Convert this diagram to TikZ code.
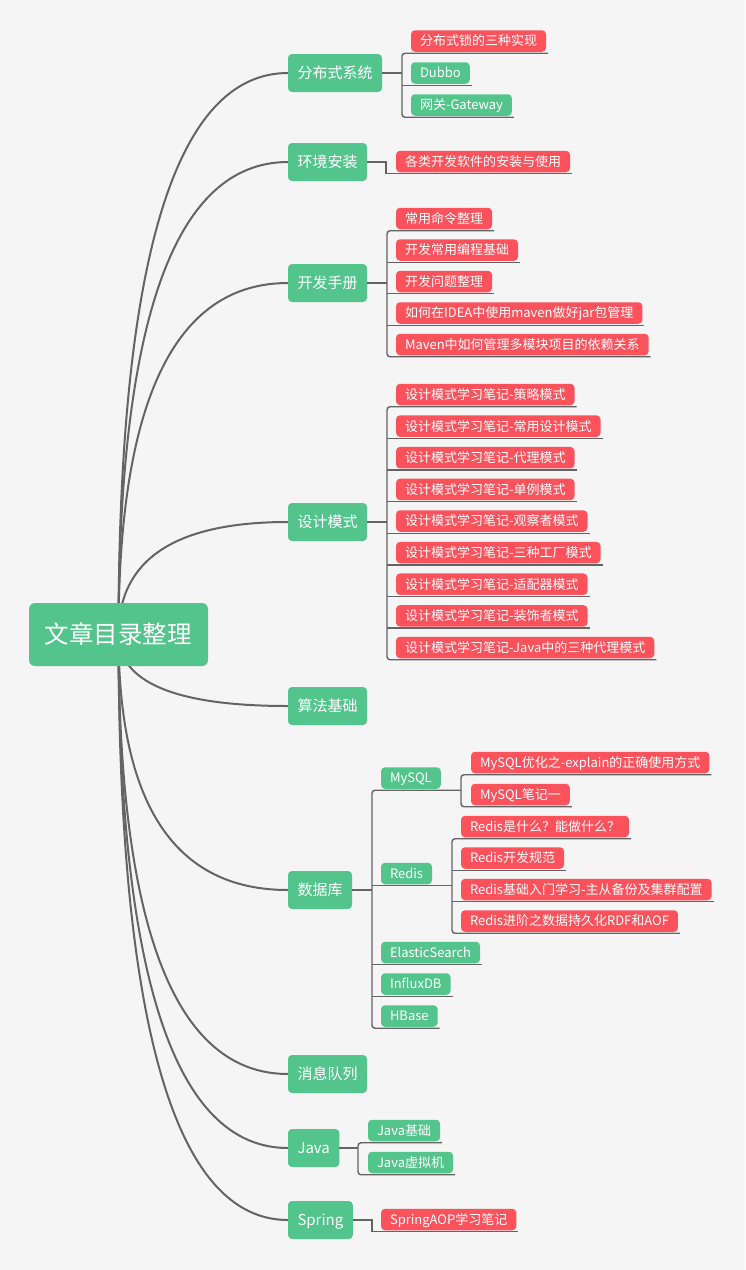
\documentclass[tikz,border=0pt]{standalone}
\usepackage{fontspec}
\setmainfont{Noto Sans CJK SC}
\usetikzlibrary{backgrounds,calc}
\definecolor{mmgreen}{RGB}{82,196,140}
\definecolor{mmred}{RGB}{252,82,92}
\definecolor{mmline}{RGB}{100,100,100}
\definecolor{mmbg}{RGB}{245,245,245}

\begin{document}
\begin{tikzpicture}[
  x=1pt, y=-1pt,
  root/.style={fill=mmgreen, text=white, rounded corners=6pt, anchor=west,
    minimum height=63pt, inner xsep=16pt, inner ysep=0pt, outer sep=0pt,
    font=\fontsize{24.5pt}{28pt}\selectfont, text height=23.5pt, text depth=4.9pt},
  topic/.style={fill=mmgreen, text=white, rounded corners=4pt, anchor=west,
    minimum height=38pt, inner xsep=9.5pt, inner ysep=0pt, outer sep=0pt,
    font=\fontsize{15pt}{18pt}\selectfont, text height=14.4pt, text depth=3pt},
  leaf/.style={text=white, rounded corners=4pt, anchor=west,
    minimum height=21.5pt, inner xsep=9pt, inner ysep=0pt, outer xsep=2pt, outer ysep=1.5pt,
    font=\fontsize{13pt}{15pt}\selectfont, text height=12.5pt, text depth=2.6pt},
  leafred/.style={leaf, fill=mmred},
  leafgreen/.style={leaf, fill=mmgreen},
  branch/.style={draw=mmline, line width=2pt},
  tree/.style={draw=mmline, line width=1.4pt},
  bracket/.style={rounded corners=3pt}
]

% --- Root ---
\node[root] (root) at (29,634.5) {文章目录整理};

% --- Main topics ---
\node[topic] (sys) at (288,73) {分布式系统};
\node[topic] (env) at (288,162) {环境安装};
\node[topic] (dev) at (288,283) {开发手册};
\node[topic] (pat) at (288,522) {设计模式};
\node[topic] (alg) at (288,706) {算法基础};
\node[topic] (db) at (288,890) {数据库};
\node[topic] (mq) at (288,1074) {消息队列};
\node[topic] (java) at (288,1148) {Java};
\node[topic] (spring) at (288,1220) {Spring};

% --- 分布式系统 ---
\coordinate (bsys) at (402,0);
\node[leafred] (lock) at (409,41) {分布式锁的三种实现};
\node[leafgreen] (dubbo) at (409,73) {Dubbo};
\node[leafgreen] (gate) at (409,105) {网关-Gateway};

% --- 环境安装 ---
\coordinate (benv) at (386,0);
\node[leafred] (tools) at (394,161.5) {各类开发软件的安装与使用};

% --- 开发手册 ---
\coordinate (bdev) at (387,0);
\node[leafred] (cmd) at (394,218.5) {常用命令整理};
\node[leafred] (basic) at (394,250) {开发常用编程基础};
\node[leafred] (issue) at (394,281.5) {开发问题整理};
\node[leafred] (idea) at (394,313) {如何在IDEA中使用maven做好jar包管理};
\node[leafred] (maven) at (394,344.5) {Maven中如何管理多模块项目的依赖关系};

% --- 设计模式 ---
\coordinate (bpat) at (387,0);
\node[leafred] (strat) at (394,394.5) {设计模式学习笔记-策略模式};
\node[leafred] (common) at (394,426.1) {设计模式学习笔记-常用设计模式};
\node[leafred] (proxy) at (394,457.7) {设计模式学习笔记-代理模式};
\node[leafred] (single) at (394,489.4) {设计模式学习笔记-单例模式};
\node[leafred] (observer) at (394,521) {设计模式学习笔记-观察者模式};
\node[leafred] (factory) at (394,552.6) {设计模式学习笔记-三种工厂模式};
\node[leafred] (adapter) at (394,584.2) {设计模式学习笔记-适配器模式};
\node[leafred] (decor) at (394,615.9) {设计模式学习笔记-装饰者模式};
\node[leafred] (jproxy) at (394,647.5) {设计模式学习笔记-Java中的三种代理模式};

% --- 数据库 ---
\coordinate (bdb) at (372,0);
\node[leafgreen] (mysql) at (379,778) {MySQL};
\node[leafgreen] (redis) at (379,873.5) {Redis};
\node[leafgreen] (es) at (379,952.5) {ElasticSearch};
\node[leafgreen] (influx) at (379,984) {InfluxDB};
\node[leafgreen] (hbase) at (379,1016) {HBase};

\coordinate (bmy) at (461,0);
\node[leafred] (explain) at (469,762.5) {MySQL优化之-explain的正确使用方式};
\node[leafred] (note) at (469,794.5) {MySQL笔记一};

\coordinate (bre) at (452,0);
\node[leafred] (what) at (459,826.5) {Redis是什么？能做什么？};
\node[leafred] (rule) at (459,858) {Redis开发规范};
\node[leafred] (cluster) at (459,889.5) {Redis基础入门学习-主从备份及集群配置};
\node[leafred] (persist) at (459,921) {Redis进阶之数据持久化RDF和AOF};

% --- Java ---
\coordinate (bjava) at (358,0);
\node[leafgreen] (jbase) at (366,1130.5) {Java基础};
\node[leafgreen] (jvm) at (366,1162.5) {Java虚拟机};

% --- Spring ---
\coordinate (bspring) at (372,0);
\node[leafred] (aop) at (379,1219.5) {SpringAOP学习笔记};

% --- Edges: 分布式系统 ---
\draw[tree] (sys.east) -- (bsys |- sys.east);
\draw[tree, bracket] (lock.south east) -- (bsys |- lock.south) -- (bsys |- gate.south) -- (gate.south east);
\draw[tree] (bsys |- dubbo.south) -- (dubbo.south east);

% --- Edges: 环境安装 ---
\draw[tree] (env.east) -- (benv |- env.east) -- (benv |- tools.south) -- (tools.south east);

% --- Edges: 开发手册 ---
\draw[tree] (dev.east) -- (bdev |- dev.east);
\draw[tree, bracket] (cmd.south east) -- (bdev |- cmd.south) -- (bdev |- maven.south) -- (maven.south east);
\draw[tree] (bdev |- basic.south) -- (basic.south east);
\draw[tree] (bdev |- issue.south) -- (issue.south east);
\draw[tree] (bdev |- idea.south) -- (idea.south east);

% --- Edges: 设计模式 ---
\draw[tree] (pat.east) -- (bpat |- pat.east);
\draw[tree, bracket] (strat.south east) -- (bpat |- strat.south) -- (bpat |- jproxy.south) -- (jproxy.south east);
\draw[tree] (bpat |- common.south) -- (common.south east);
\draw[tree] (bpat |- proxy.south) -- (proxy.south east);
\draw[tree] (bpat |- single.south) -- (single.south east);
\draw[tree] (bpat |- observer.south) -- (observer.south east);
\draw[tree] (bpat |- factory.south) -- (factory.south east);
\draw[tree] (bpat |- adapter.south) -- (adapter.south east);
\draw[tree] (bpat |- decor.south) -- (decor.south east);

% --- Edges: 数据库 ---
\draw[tree] (db.east) -- (bdb |- db.east);
\draw[tree, bracket] (bmy |- mysql.south) -- (bdb |- mysql.south) -- (bdb |- hbase.south) -- (hbase.south east);
\draw[tree] (bdb |- redis.south) -- (bre |- redis.south);
\draw[tree] (bdb |- es.south) -- (es.south east);
\draw[tree] (bdb |- influx.south) -- (influx.south east);
\draw[tree, bracket] (explain.south east) -- (bmy |- explain.south) -- (bmy |- note.south) -- (note.south east);
\draw[tree, bracket] (what.south east) -- (bre |- what.south) -- (bre |- persist.south) -- (persist.south east);
\draw[tree] (bre |- rule.south) -- (rule.south east);
\draw[tree] (bre |- cluster.south) -- (cluster.south east);

% --- Edges: Java ---
\draw[tree] (java.east) -- (bjava |- java.east);
\draw[tree, bracket] (jbase.south east) -- (bjava |- jbase.south) -- (bjava |- jvm.south) -- (jvm.south east);

% --- Edges: Spring ---
\draw[tree] (spring.east) -- (bspring |- spring.east) -- (bspring |- aop.south) -- (aop.south east);

% --- Curves from the root ---
\begin{scope}[on background layer]
\fill[mmbg] (0,0) rectangle (745,1270);
\draw[branch] (root.center) .. controls ($(root.center)!.667!(root.center |- sys.west)$) and ($(sys.west)!.667!(root.center |- sys.west)$) .. (sys.west);
\draw[branch] (root.center) .. controls ($(root.center)!.667!(root.center |- env.west)$) and ($(env.west)!.667!(root.center |- env.west)$) .. (env.west);
\draw[branch] (root.center) .. controls ($(root.center)!.667!(root.center |- dev.west)$) and ($(dev.west)!.667!(root.center |- dev.west)$) .. (dev.west);
\draw[branch] (root.center) .. controls ($(root.center)!.667!(root.center |- pat.west)$) and ($(pat.west)!.667!(root.center |- pat.west)$) .. (pat.west);
\draw[branch] (root.center) .. controls ($(root.center)!.667!(root.center |- alg.west)$) and ($(alg.west)!.667!(root.center |- alg.west)$) .. (alg.west);
\draw[branch] (root.center) .. controls ($(root.center)!.667!(root.center |- db.west)$) and ($(db.west)!.667!(root.center |- db.west)$) .. (db.west);
\draw[branch] (root.center) .. controls ($(root.center)!.667!(root.center |- mq.west)$) and ($(mq.west)!.667!(root.center |- mq.west)$) .. (mq.west);
\draw[branch] (root.center) .. controls ($(root.center)!.667!(root.center |- java.west)$) and ($(java.west)!.667!(root.center |- java.west)$) .. (java.west);
\draw[branch] (root.center) .. controls ($(root.center)!.667!(root.center |- spring.west)$) and ($(spring.west)!.667!(root.center |- spring.west)$) .. (spring.west);
\end{scope}

\end{tikzpicture}
\end{document}
